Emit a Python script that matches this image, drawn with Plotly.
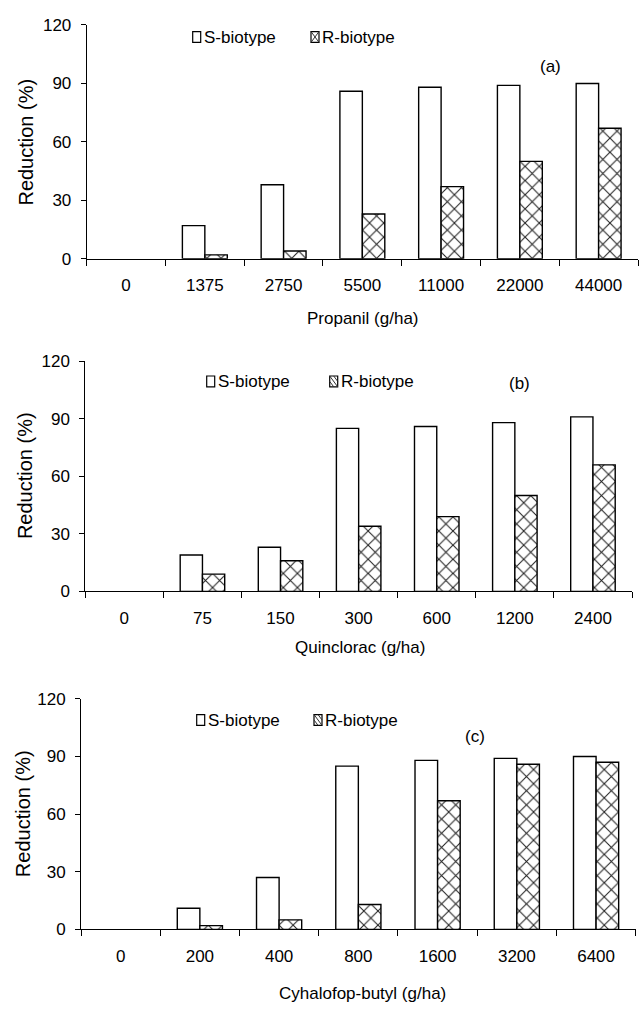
import plotly.graph_objects as go

W, H = 643, 1015

# ---------------- data ----------------
propanil_doses = ["0", "1375", "2750", "5500", "11000", "22000", "44000"]
propanil_S = [0, 17, 38, 86, 88, 89, 90]
propanil_R = [0, 2, 4, 23, 37, 50, 67]

quinclorac_doses = ["0", "75", "150", "300", "600", "1200", "2400"]
quinclorac_S = [0, 19, 23, 85, 86, 88, 91]
quinclorac_R = [0, 9, 16, 34, 39, 50, 66]

cyhalofop_doses = ["0", "200", "400", "800", "1600", "3200", "6400"]
cyhalofop_S = [0, 11, 27, 85, 88, 89, 90]
cyhalofop_R = [0, 2, 5, 13, 67, 86, 87]

x_titles = ["Propanil (g/ha)", "Quinclorac (g/ha)", "Cyhalofop-butyl (g/ha)"]
panel_tags = ["(a)", "(b)", "(c)"]
y_title = "Reduction (%)"
y_ticks = [0, 30, 60, 90, 120]
series_names = ["S-biotype", "R-biotype"]

# ---------------- layout geometry (pixels) ----------------
panels = [
    dict(x0=86.7, x1=638.0, ytop=16.3, ybot=254.5,
         tag=(550, 59), xt=(363, 315.3), yt=(25.7, 135.4),
         legS=(192.7, 29.0), legR=(311.0, 29.0), rstyle="x"),
    dict(x0=85.3, x1=632.0, ytop=359.0, ybot=593.5,
         tag=(519.7, 381.7), xt=(360, 650.7), yt=(25.0, 476.0),
         legS=(206.7, 380.0), legR=(329.7, 380.0), rstyle="d"),
    dict(x0=81.0, x1=635.7, ytop=703.0, ybot=938.0,
         tag=(475, 741.7), xt=(362, 1003.0), yt=(22.5, 820.0),
         legS=(196.7, 725.0), legR=(314.0, 725.0), rstyle="d"),
]

FONT = "Liberation Sans, Arial, sans-serif"
FS = 17


def fx(x):
    return x / W


def fy(y):
    return 1 - y / H


data_sets = [
    (propanil_doses, propanil_S, propanil_R),
    (quinclorac_doses, quinclorac_S, quinclorac_R),
    (cyhalofop_doses, cyhalofop_S, cyhalofop_R),
]

fig = go.Figure()
annotations = []
shapes = []

for i, ((doses, s_vals, r_vals), p) in enumerate(zip(data_sets, panels)):
    k = "" if i == 0 else str(i + 1)
    xa, ya = "x" + k, "y" + k
    fig.add_trace(go.Bar(
        x=doses, y=s_vals, name=series_names[0], xaxis=xa, yaxis=ya,
        marker=dict(color="white",
                    line=dict(color="black",
                              width=[1.4 if v > 0 else 0 for v in s_vals])),
        showlegend=False, offsetgroup="S",
    ))
    fig.add_trace(go.Bar(
        x=doses, y=r_vals, name=series_names[1], xaxis=xa, yaxis=ya,
        marker=dict(color="white",
                    line=dict(color="black",
                              width=[1.4 if v > 0 else 0 for v in r_vals]),
                    pattern=dict(shape="x", size=10, solidity=0.2,
                                 fgcolor="#222222", bgcolor="white",
                                 fillmode="replace")),
        showlegend=False, offsetgroup="R",
    ))

    fig.update_layout(**{
        "xaxis" + k: dict(
            domain=[fx(p["x0"]), fx(p["x1"])], anchor=ya, type="category",
            showline=True, linecolor="black", linewidth=1,
            ticks="outside", tickson="boundaries", ticklen=6,
            tickcolor="black", tickwidth=1, showgrid=False,
            tickfont=dict(family=FONT, size=FS, color="black"),
            ticklabelstandoff=11, fixedrange=True,
        ),
        "yaxis" + k: dict(
            domain=[fy(p["ybot"]), fy(p["ytop"])], anchor=xa,
            range=[0, 120], tickvals=y_ticks,
            showline=True, linecolor="black", linewidth=1,
            ticks="outside", ticklen=5, tickcolor="black", tickwidth=1,
            showgrid=False, zeroline=False,
            tickfont=dict(family=FONT, size=FS, color="black"),
            ticklabelstandoff=6, fixedrange=True,
        ),
    })

    # axis titles
    annotations.append(dict(
        text=x_titles[i], xref="paper", yref="paper",
        x=fx(p["xt"][0]), y=fy(p["xt"][1]), xanchor="center", yanchor="middle",
        showarrow=False, font=dict(family=FONT, size=FS, color="black")))
    annotations.append(dict(
        text=y_title, xref="paper", yref="paper", textangle=-90,
        x=fx(p["yt"][0]), y=fy(p["yt"][1]), xanchor="center", yanchor="middle",
        showarrow=False, font=dict(family=FONT, size=20, color="black")))
    # panel tag
    annotations.append(dict(
        text=panel_tags[i], xref="paper", yref="paper",
        x=fx(p["tag"][0]), y=fy(p["tag"][1]), xanchor="center", yanchor="middle",
        showarrow=False, font=dict(family=FONT, size=FS, color="black")))

    # legend (manual)
    for j, key in enumerate(["legS", "legR"]):
        bx, cy = p[key]
        bw, bh = 8, 11
        x0, x1 = bx, bx + bw
        y0, y1 = cy - bh / 2 - 0.5, cy + bh / 2 - 0.5
        shapes.append(dict(type="rect", xref="paper", yref="paper",
                           x0=fx(x0), x1=fx(x1), y0=fy(y1), y1=fy(y0),
                           line=dict(color="black", width=1.2),
                           fillcolor="white"))
        if j == 1:
            if p["rstyle"] == "x":
                lines = [(x0, y0, x1, y1), (x0, y1, x1, y0)]
            else:
                lines = [(x0, y0, x1, y1), (x0, y0 + bh / 2, x0 + bw / 2, y1),
                         (x0 + bw / 2, y0, x1, y0 + bh / 2)]
            for (a, b, c, d) in lines:
                shapes.append(dict(type="line", xref="paper", yref="paper",
                                   x0=fx(a), y0=fy(b), x1=fx(c), y1=fy(d),
                                   line=dict(color="#333333", width=1)))
        annotations.append(dict(
            text=series_names[j], xref="paper", yref="paper",
            x=fx(x1 + 1), y=fy(cy), xanchor="left", yanchor="middle",
            showarrow=False, font=dict(family=FONT, size=FS, color="black")))

fig.update_layout(
    width=W, height=H,
    margin=dict(l=0, r=0, t=0, b=0),
    paper_bgcolor="white", plot_bgcolor="white",
    barmode="group", bargap=0.43, bargroupgap=0,
    showlegend=False,
    annotations=annotations, shapes=shapes,
    font=dict(family=FONT, size=FS, color="black"),
)

fig.write_html("out.html", config={"displayModeBar": False})
